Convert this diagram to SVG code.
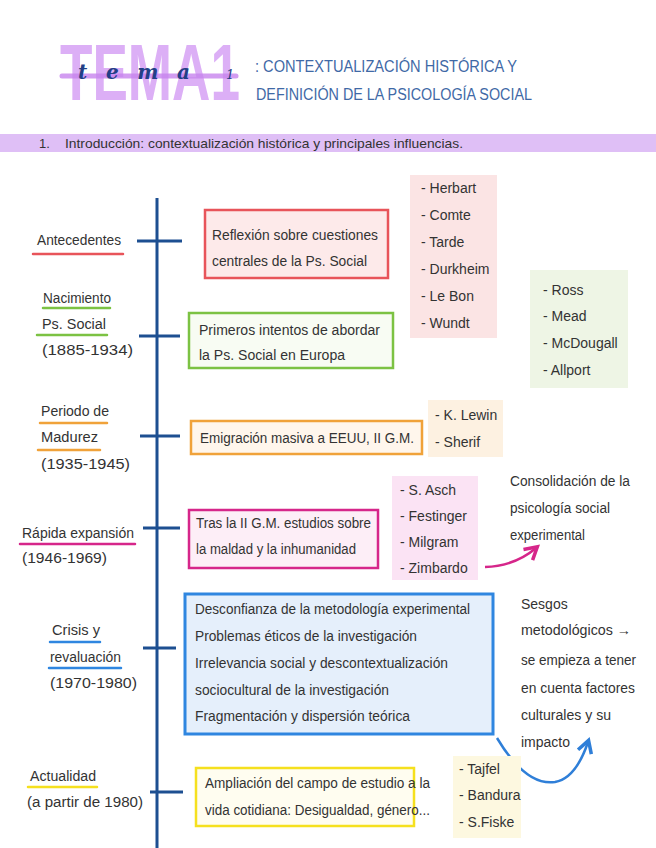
<svg xmlns="http://www.w3.org/2000/svg" width="656" height="848" viewBox="0 0 656 848">
<defs>
<style>
text{font-family:"Liberation Sans","DejaVu Sans",sans-serif;fill:#333;font-size:14px}
.title{fill:#3f69a6;font-size:16px}
.lst{font-size:14px}
.box{stroke-width:2.5}
.ul{stroke-width:2.5;fill:none;stroke-linecap:round}
.tick{stroke:#1d4f91;stroke-width:3;fill:none}
</style>
<marker id="amag" viewBox="0 0 10 10" refX="7" refY="5" markerWidth="7" markerHeight="7" orient="auto"><path d="M1,1 L8,5 L1,9" fill="none" stroke="#d6268a" stroke-width="2"/></marker>
<marker id="ablu" viewBox="0 0 10 10" refX="7" refY="5" markerWidth="7" markerHeight="7" orient="auto"><path d="M1,1 L8,5 L1,9" fill="none" stroke="#2f7fd8" stroke-width="2"/></marker>
</defs>
<rect width="656" height="848" fill="#fff"/>

<g id="header">
<text transform="translate(60,100) scale(0.664,1)" x="0" y="0" style="font-weight:bold;font-size:80px;fill:#d7a2f5;opacity:0.85">TEMA1</text>
<line x1="62" y1="76" x2="236" y2="76" stroke="#c784ee" stroke-width="5" stroke-linecap="round" opacity="0.8"/>
<text x="78" y="79" style="font-family:'DejaVu Serif',serif;font-style:italic;font-weight:bold;fill:#233f86;font-size:20px" textLength="112" lengthAdjust="spacing">tema</text>
<text x="226" y="79" style="font-family:'DejaVu Serif',serif;font-style:italic;fill:#233f86;font-size:13px">1</text>
<text class="title" x="255" y="72" textLength="262" lengthAdjust="spacingAndGlyphs">: CONTEXTUALIZACIÓN HISTÓRICA Y</text>
<text class="title" x="256" y="100" textLength="276" lengthAdjust="spacingAndGlyphs">DEFINICIÓN DE LA PSICOLOGÍA SOCIAL</text>
</g>

<g id="section">
<rect x="0" y="134" width="656" height="18" fill="#dfbff6"/>
<text x="39" y="148" style="font-size:13px">1.</text>
<text x="65" y="148" style="font-size:13px" textLength="398" lengthAdjust="spacingAndGlyphs">Introducción: contextualización histórica y principales influencias.</text>
</g>

<g id="connectors">
<line x1="157" y1="198" x2="157" y2="848" stroke="#1d4f91" stroke-width="3"/>
<line class="tick" x1="137" y1="241" x2="182" y2="241"/>
<line class="tick" x1="139" y1="336" x2="180" y2="336"/>
<line class="tick" x1="140" y1="436" x2="180" y2="436"/>
<line class="tick" x1="143" y1="528" x2="180" y2="528"/>
<line class="tick" x1="143" y1="648" x2="176" y2="648"/>
<line class="tick" x1="150" y1="792" x2="183" y2="792"/>
<path d="M485,567 Q515,566 536,548" fill="none" stroke="#d6268a" stroke-width="2.5" marker-end="url(#amag)"/>
<path d="M497,738 C515,768 535,785 555,782 C572,779 582,760 588,742" fill="none" stroke="#2f7fd8" stroke-width="2.5" marker-end="url(#ablu)"/>
</g>

<g id="antecedentes">
<text x="37" y="245" textLength="84" lengthAdjust="spacingAndGlyphs">Antecedentes</text>
<line class="ul" x1="33" y1="254" x2="123" y2="254" stroke="#e8545a"/>
<rect class="box" x="205" y="210" width="183" height="68" fill="#fdeaea" stroke="#e8545a"/>
<text x="212" y="240" textLength="166" lengthAdjust="spacingAndGlyphs">Reflexión sobre cuestiones</text>
<text x="212" y="266" textLength="155" lengthAdjust="spacingAndGlyphs">centrales de la Ps. Social</text>
</g>
<g id="lista-antecedentes">
<rect x="410" y="175" width="87" height="163" fill="#fbe4e4"/>
<text class="lst" x="421" y="193">- Herbart</text>
<text class="lst" x="421" y="220">- Comte</text>
<text class="lst" x="421" y="247">- Tarde</text>
<text class="lst" x="421" y="274">- Durkheim</text>
<text class="lst" x="421" y="301">- Le Bon</text>
<text class="lst" x="421" y="328">- Wundt</text>
</g>

<g id="nacimiento">
<text x="43" y="303" textLength="68" lengthAdjust="spacingAndGlyphs">Nacimiento</text>
<line class="ul" x1="43" y1="308" x2="110" y2="308" stroke="#7cc243"/>
<text x="42" y="329" textLength="64" lengthAdjust="spacingAndGlyphs">Ps. Social</text>
<line class="ul" x1="37" y1="335" x2="107" y2="335" stroke="#7cc243"/>
<text x="42" y="355" textLength="91" lengthAdjust="spacingAndGlyphs">(1885-1934)</text>
<rect class="box" x="189" y="313" width="204" height="55" fill="#f8fcf3" stroke="#7cc243"/>
<text x="199" y="335" textLength="181" lengthAdjust="spacingAndGlyphs">Primeros intentos de abordar</text>
<text x="199" y="360" textLength="146" lengthAdjust="spacingAndGlyphs">la Ps. Social en Europa</text>
</g>
<g id="lista-nacimiento">
<rect x="530" y="270" width="98" height="118" fill="#eef5e5"/>
<text class="lst" x="543" y="295">- Ross</text>
<text class="lst" x="543" y="321">- Mead</text>
<text class="lst" x="543" y="348">- McDougall</text>
<text class="lst" x="543" y="375">- Allport</text>
</g>

<g id="madurez">
<text x="41" y="416" textLength="68" lengthAdjust="spacingAndGlyphs">Periodo de</text>
<line class="ul" x1="40" y1="423" x2="107" y2="423" stroke="#f0a23a"/>
<text x="41" y="442" textLength="57" lengthAdjust="spacingAndGlyphs">Madurez</text>
<line class="ul" x1="38" y1="450" x2="100" y2="450" stroke="#f0a23a"/>
<text x="41" y="469" textLength="89" lengthAdjust="spacingAndGlyphs">(1935-1945)</text>
<rect class="box" x="191" y="421" width="231" height="33" fill="#fff6ec" stroke="#f0a23a"/>
<text x="200" y="443" textLength="214" lengthAdjust="spacingAndGlyphs">Emigración masiva a EEUU, II G.M.</text>
</g>
<g id="lista-madurez">
<rect x="428" y="400" width="75" height="57" fill="#fdf1e1"/>
<text class="lst" x="435" y="420">- K. Lewin</text>
<text class="lst" x="435" y="447">- Sherif</text>
</g>

<g id="expansion">
<text x="22" y="538" textLength="112" lengthAdjust="spacingAndGlyphs">Rápida expansión</text>
<line class="ul" x1="20" y1="544" x2="135" y2="544" stroke="#d6268a"/>
<text x="22" y="563" textLength="85" lengthAdjust="spacingAndGlyphs">(1946-1969)</text>
<rect class="box" x="189" y="510" width="189" height="58" fill="#fdeef7" stroke="#d6268a"/>
<text x="196" y="528" textLength="175" lengthAdjust="spacingAndGlyphs">Tras la II G.M. estudios sobre</text>
<text x="196" y="554" textLength="160" lengthAdjust="spacingAndGlyphs">la maldad y la inhumanidad</text>
</g>
<g id="lista-expansion">
<rect x="392" y="476" width="86" height="104" fill="#fbe3f4"/>
<text class="lst" x="400" y="495">- S. Asch</text>
<text class="lst" x="400" y="521">- Festinger</text>
<text class="lst" x="400" y="547">- Milgram</text>
<text class="lst" x="400" y="573">- Zimbardo</text>
</g>
<g id="consolidacion">
<text x="510" y="486" textLength="120" lengthAdjust="spacingAndGlyphs">Consolidación de la</text>
<text x="510" y="513" textLength="100" lengthAdjust="spacingAndGlyphs">psicología social</text>
<text x="510" y="540" textLength="75" lengthAdjust="spacingAndGlyphs">experimental</text>
</g>

<g id="crisis">
<text x="52" y="635" textLength="48" lengthAdjust="spacingAndGlyphs">Crisis y</text>
<line class="ul" x1="50" y1="642" x2="100" y2="642" stroke="#2f86e0"/>
<text x="50" y="662" textLength="71" lengthAdjust="spacingAndGlyphs">revaluación</text>
<line class="ul" x1="49" y1="668" x2="121" y2="668" stroke="#2f86e0"/>
<text x="50" y="688" textLength="87" lengthAdjust="spacingAndGlyphs">(1970-1980)</text>
<rect x="185" y="594" width="308" height="140" fill="#e5effb" stroke="#2f86e0" stroke-width="3"/>
<text x="195" y="614" textLength="275" lengthAdjust="spacingAndGlyphs">Desconfianza de la metodología experimental</text>
<text x="195" y="641" textLength="222" lengthAdjust="spacingAndGlyphs">Problemas éticos de la investigación</text>
<text x="195" y="668" textLength="253" lengthAdjust="spacingAndGlyphs">Irrelevancia social y descontextualización</text>
<text x="195" y="695" textLength="194" lengthAdjust="spacingAndGlyphs">sociocultural de la investigación</text>
<text x="195" y="721" textLength="215" lengthAdjust="spacingAndGlyphs">Fragmentación y dispersión teórica</text>
</g>
<g id="sesgos">
<text x="521" y="609">Sesgos</text>
<text x="521" y="635" textLength="110" lengthAdjust="spacingAndGlyphs">metodológicos →</text>
<text x="521" y="665" textLength="115" lengthAdjust="spacingAndGlyphs">se empieza a tener</text>
<text x="521" y="693" textLength="114" lengthAdjust="spacingAndGlyphs">en cuenta factores</text>
<text x="521" y="720" textLength="90" lengthAdjust="spacingAndGlyphs">culturales y su</text>
<text x="521" y="747">impacto</text>
</g>

<g id="actualidad">
<text x="30" y="781" textLength="66" lengthAdjust="spacingAndGlyphs">Actualidad</text>
<line class="ul" x1="28" y1="787" x2="97" y2="787" stroke="#f5e01e"/>
<text x="27" y="807" textLength="116" lengthAdjust="spacingAndGlyphs">(a partir de 1980)</text>
<rect class="box" x="196" y="768" width="218" height="58" fill="#fffdf0" stroke="#f5e01e"/>
<text x="205" y="788" textLength="225" lengthAdjust="spacingAndGlyphs">Ampliación del campo de estudio a la</text>
<text x="205" y="815" textLength="225" lengthAdjust="spacingAndGlyphs">vida cotidiana: Desigualdad, género...</text>
</g>
<g id="lista-actualidad">
<rect x="453" y="756" width="68" height="82" fill="#fdf8e0"/>
<text class="lst" x="459" y="774">- Tajfel</text>
<text class="lst" x="459" y="800">- Bandura</text>
<text class="lst" x="459" y="827">- S.Fiske</text>
</g>
</svg>
